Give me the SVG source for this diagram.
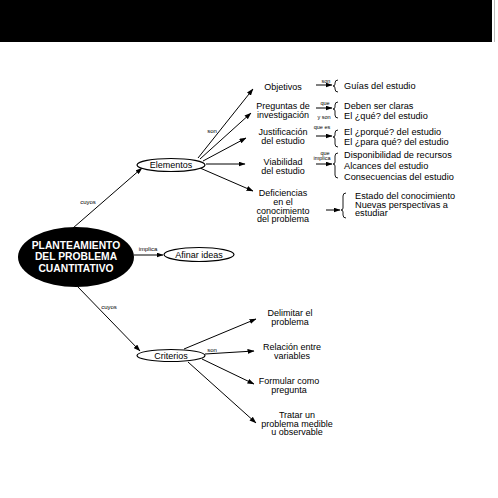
<svg xmlns="http://www.w3.org/2000/svg" width="498" height="498" viewBox="0 0 498 498">
<defs>
<marker id="ah" markerWidth="7" markerHeight="5" refX="6.5" refY="2.5" orient="auto" markerUnits="userSpaceOnUse">
<path d="M0,0 L7,2.5 L0,5 z" fill="#000"/>
</marker>
<style>
text{font-family:"Liberation Sans",Arial,sans-serif;fill:#000}
.n{font-size:9px;text-anchor:middle}
.l{font-size:9.2px}
.s{font-size:5.5px;text-anchor:middle}
.lbl{font-size:6px;text-anchor:middle}
.c{stroke:#000;stroke-width:1;fill:none}
.a{stroke:#000;stroke-width:1;fill:none;marker-end:url(#ah)}
.e{fill:#fff;stroke:#000;stroke-width:1.2}
.b{fill:none;stroke:#000;stroke-width:0.9}
</style>
</defs>
<rect x="0" y="0" width="492" height="42" fill="#000"/>
<line x1="494.5" y1="0" x2="494.5" y2="42" stroke="#bbb" stroke-width="1"/>

<g id="connectors">
<line class="a" x1="73" y1="228" x2="142" y2="168"/>
<line class="a" x1="77" y1="286" x2="140" y2="351"/>
<line class="a" x1="134" y1="255" x2="163" y2="255"/>
<line class="a" x1="198" y1="158" x2="253" y2="89"/>
<line class="a" x1="200" y1="159" x2="251" y2="113"/>
<line class="a" x1="203" y1="161" x2="246" y2="138"/>
<line class="a" x1="206" y1="164" x2="245" y2="164"/>
<line class="a" x1="200" y1="168" x2="253" y2="191"/>
<line class="a" x1="184" y1="349" x2="256" y2="319"/>
<line class="a" x1="205" y1="354" x2="254" y2="351"/>
<line class="a" x1="202" y1="359" x2="254" y2="384"/>
<line class="a" x1="188" y1="362" x2="256" y2="423"/>
<line class="a" x1="316" y1="85" x2="332" y2="85"/>
<line class="a" x1="316" y1="108" x2="332" y2="108"/>
<line class="a" x1="316" y1="136" x2="332" y2="136"/>
<line class="a" x1="316" y1="164" x2="332" y2="164"/>
<line class="a" x1="326" y1="210" x2="340" y2="210"/>
<path class="b" d="M338,80 Q335,80 335,83 L335,84 Q335,86 333,86 Q335,86 335,88 L335,89 Q335,92 338,92"/>
<path class="b" d="M338,102 Q335,102 335,105 L335,107 Q335,109 333,109 Q335,109 335,111 L335,115 Q335,118 338,118"/>
<path class="b" d="M338,130 Q335,130 335,133 L335,135 Q335,137 333,137 Q335,137 335,139 L335,144 Q335,147 338,147"/>
<path class="b" d="M338,153 Q335,153 335,156 L335,162 Q335,164 333,164 Q335,164 335,166 L335,175 Q335,178 338,178"/>
<path class="b" d="M346,193 Q343,193 343,196 L343,208 Q343,210 341,210 Q343,210 343,212 L343,215 Q343,218 346,218"/>
<text class="lbl" x="88" y="204">cuyos</text>
<text class="lbl" x="109" y="309">cuyos</text>
<text class="lbl" x="148" y="251">implica</text>
<text class="lbl" x="212" y="133">son</text>
<text class="lbl" x="212" y="352">son</text>
<text class="s" x="326" y="82.5">son</text>
<text class="s" x="325" y="105">que</text>
<text class="s" x="324" y="119">y son</text>
<text class="s" x="322" y="129">que es</text>
<text class="s" x="325" y="155">que</text>
<text class="s" x="322" y="160">implica</text>
</g>

<g id="main">
<ellipse cx="76" cy="257" rx="58" ry="30" fill="#000"/>
<text x="76" y="248.5" font-size="10.3" font-weight="bold" text-anchor="middle" style="fill:#fff">PLANTEAMIENTO</text>
<text x="76" y="260" font-size="10.3" font-weight="bold" text-anchor="middle" style="fill:#fff">DEL PROBLEMA</text>
<text x="76" y="271.5" font-size="10.3" font-weight="bold" text-anchor="middle" style="fill:#fff">CUANTITATIVO</text>
</g>
<g id="elementos">
<ellipse class="e" cx="171" cy="165" rx="34" ry="6.5"/>
<text class="n" x="171" y="168">Elementos</text>
</g>
<g id="afinar">
<ellipse class="e" cx="199" cy="254.5" rx="35" ry="7"/>
<text class="n" x="199" y="257.5">Afinar ideas</text>
</g>
<g id="criterios">
<ellipse class="e" cx="171" cy="355.5" rx="34" ry="6"/>
<text class="n" x="171" y="358.5">Criterios</text>
</g>

<g id="objetivos"><text class="n" x="283" y="90">Objetivos</text></g>
<g id="preguntas"><text class="n" x="283" y="109">Preguntas de</text><text class="n" x="283" y="118">investigación</text></g>
<g id="justificacion"><text class="n" x="283" y="135">Justificación</text><text class="n" x="283" y="144">del estudio</text></g>
<g id="viabilidad"><text class="n" x="283" y="165">Viabilidad</text><text class="n" x="283" y="174">del estudio</text></g>
<g id="deficiencias"><text class="n" x="283" y="196">Deficiencias</text><text class="n" x="283" y="205">en el</text><text class="n" x="283" y="213.5">conocimiento</text><text class="n" x="283" y="222">del problema</text></g>

<g id="guias"><text class="l" x="344" y="89">Guías del estudio</text></g>
<g id="preg-list"><text class="l" x="344" y="109">Deben ser claras</text><text class="l" x="344" y="119">El ¿qué? del estudio</text></g>
<g id="just-list"><text class="l" x="344" y="135">El ¿porqué? del estudio</text><text class="l" x="344" y="145">El ¿para qué? del estudio</text></g>
<g id="viab-list"><text class="l" x="344" y="158">Disponibilidad de recursos</text><text class="l" x="344" y="169">Alcances del estudio</text><text class="l" x="344" y="180">Consecuencias del estudio</text></g>
<g id="def-list"><text class="l" x="355" y="199">Estado del conocimiento</text><text class="l" x="355" y="207.5">Nuevas perspectivas a</text><text class="l" x="355" y="216">estudiar</text></g>

<g id="delimitar"><text class="n" x="290" y="316">Delimitar el</text><text class="n" x="290" y="325">problema</text></g>
<g id="relacion"><text class="n" x="292" y="350">Relación entre</text><text class="n" x="292" y="358.5">variables</text></g>
<g id="formular"><text class="n" x="289" y="384">Formular como</text><text class="n" x="289" y="392.5">pregunta</text></g>
<g id="tratar"><text class="n" x="297" y="418">Tratar un</text><text class="n" x="297" y="426.5">problema medible</text><text class="n" x="297" y="435">u observable</text></g>
</svg>
